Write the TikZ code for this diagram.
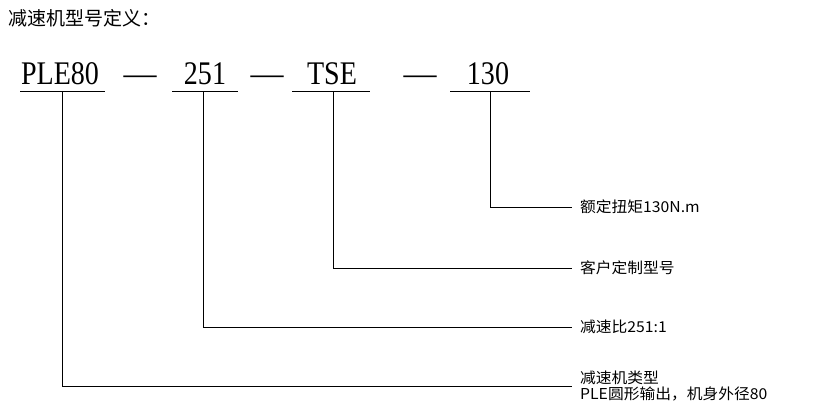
\documentclass[tikz,border=0pt]{standalone}
\usepackage{fontspec}
\setmainfont{Liberation Serif}
\newfontfamily\cjk{Noto Sans CJK SC}
\begin{document}
\begin{tikzpicture}[x=1pt,y=-1pt,
  big/.style={font=\fontsize{33}{33}\selectfont, inner sep=0pt, anchor=base},
  lbl/.style={font=\cjk\fontsize{15}{17}\selectfont, inner sep=0pt, anchor=west, align=left},
  ln/.style={line width=0.8pt}]
\useasboundingbox (0,0) rectangle (818,418);
\node[font=\cjk\fontsize{19}{21}\selectfont, anchor=west, inner sep=0pt] (title) at (8,18) {减速机型号定义：};
\node[big, xscale=0.85] (a) at (60,84) {PLE80};
\node[big] (d1) at (140,84) {—};
\node[big, xscale=0.85] (b) at (205,84) {251};
\node[big] (d2) at (267,84) {—};
\node[big, xscale=0.85] (c) at (332,84) {TSE};
\node[big] (d3) at (420,84) {—};
\node[big, xscale=0.85] (e) at (488,84) {130};
\draw[ln] (20,91) -- (105,91);
\draw[ln] (172,91) -- (238,91);
\draw[ln] (292,91) -- (370,91);
\draw[ln] (450,91) -- (530,91);
\coordinate (ea) at (490,91); \coordinate (ca) at (333,91);
\coordinate (ba) at (203,91); \coordinate (aa) at (62,91);
\node[lbl, xscale=1.05] (l1) at (580,207) {额定扭矩130N.m};
\node[lbl, xscale=1.05] (l2) at (580,268) {客户定制型号};
\node[lbl, xscale=1.05] (l3) at (580,327) {减速比251:1};
\node[lbl, xscale=1.05, anchor=south west] (l4) at (580,385) {减速机类型};
\node[lbl, xscale=1.05, anchor=north west] (l5) at (580,387) {PLE圆形输出，机身外径80};
\draw[ln] (ea) |- (572,207);
\draw[ln] (ca) |- (572,268);
\draw[ln] (ba) |- (572,327);
\draw[ln] (aa) |- (572,386);
\end{tikzpicture}
\end{document}
